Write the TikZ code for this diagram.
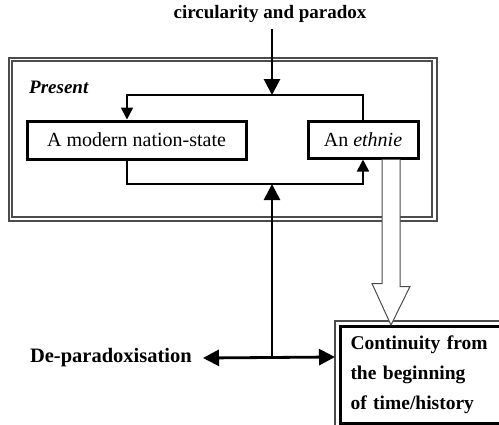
\documentclass[tikz,border=0pt]{standalone}
\usepackage{fontspec}
\setmainfont{Liberation Serif}
\usetikzlibrary{arrows.meta}
\tikzset{bighead/.tip={Triangle[length=16pt,width=16pt]},
  smallhead/.tip={Triangle[length=12pt,width=12pt]}}
\begin{document}
\begin{tikzpicture}[x=1pt,y=-1pt,
  boxtext/.style={font=\fontsize{20}{22}\selectfont},
  label/.style={font=\fontsize{19}{22}\selectfont\bfseries},
  solidbox/.style={draw=black,line width=3pt,inner sep=0pt,boxtext},
  frameline/.style={draw=black!70,line width=1.1pt},
  loopline/.style={line width=1.7pt,-{smallhead}},
  mainline/.style={line width=2.8pt}]
\useasboundingbox (0,0) rectangle (499,424);
\clip (0,0) rectangle (499,424);
\fill[white] (0,0) rectangle (499,424);

% the "Present" frame, double ruled
\draw[frameline] (9,58) rectangle (437,221);
\draw[frameline] (12,61) rectangle (432,217);
\node[font=\fontsize{19}{22}\selectfont\bfseries\itshape,anchor=west,inner sep=0pt] (present) at (29,87) {Present};

% top and side labels
\node[label] (circ) at (270,14) {circularity and paradox};
\node[label,anchor=east,font=\fontsize{20.5}{22}\selectfont\bfseries,inner sep=0pt] (depara) at (192,358) {De-paradoxisation};

% the two states of the present
\node[solidbox,minimum width=219pt,minimum height=38pt] (modern) at (136.5,140) {A modern nation-state};
\node[solidbox,minimum width=110pt,minimum height=37pt] (ethnie) at (363,139.5) {An \textit{ethnie}};

% continuity box, outer thin rule and inner heavy rule
\node[draw=black,line width=3pt,anchor=north west,minimum width=200pt,minimum height=97pt,
  text width=180pt,align=left,inner xsep=8pt,font=\fontsize{19.5}{30}\selectfont\bfseries]
  (cont) at (339,325) {Continuity from\\the beginning\\of time/history};
\draw[frameline] ([shift={(-4,-4)}]cont.north west) rectangle ([shift={(4,4)}]cont.south east);

% hollow arrow from the ethnie down to continuity
\draw[draw=black!70,fill=white,line width=1pt]
  ([xshift=19]ethnie.south) -- ++(0,124) -- ++(-10,0) -- ([xshift=52]cont.north west)
  -- ++(19,-38.5) -- ++(-10,0) -- ([xshift=37]ethnie.south);

% circular loop between the two
\coordinate (topmid) at (272,95);
\coordinate (botmid) at (272,184);
\draw[loopline] (ethnie.north) |- (topmid) -| ([xshift=-9.5]modern.north);
\draw[loopline] ([xshift=-9.5]modern.south) |- (botmid) -| (ethnie.south);

% main arrows
\draw[mainline,-{bighead}] ([yshift=-3]circ.south -| topmid) -- (topmid);
\coordinate (hub) at (272,357);
\draw[mainline,-{bighead}] (hub) -- (botmid);
\draw[mainline,{bighead}-{bighead}] ([xshift=11]depara.east) -- ([xshift=-4]cont.west |- hub);
\end{tikzpicture}
\end{document}
